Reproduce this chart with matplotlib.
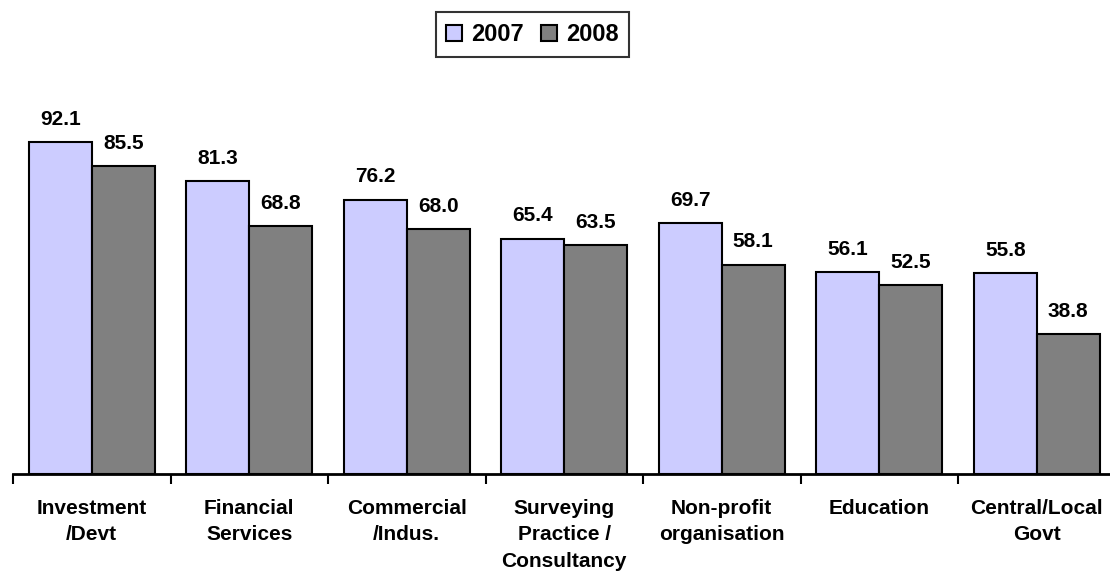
import matplotlib.pyplot as plt
import numpy as np

plt.rcParams['font.family'] = ['Liberation Sans', 'DejaVu Sans']

categories = ['Investment\n/Devt', 'Financial\nServices', 'Commercial\n/Indus.',
              'Surveying\nPractice /\nConsultancy', 'Non-profit\norganisation',
              'Education', 'Central/Local\nGovt']
vals_2007 = [92.1, 81.3, 76.2, 65.4, 69.7, 56.1, 55.8]
vals_2008 = [85.5, 68.8, 68.0, 63.5, 58.1, 52.5, 38.8]
series_names = ['2007', '2008']
colors = ['#CCCCFF', '#808080']

W, H = 1110, 573
fig = plt.figure(figsize=(W / 100, H / 100), dpi=100)
# plot area in pixel terms: left 13, bottom line at y=474, 157.5 px per category
ax = fig.add_axes([13 / W, (H - 474) / H, 157.5 * 7 / W, 360 / H])

x = np.arange(len(categories))
bw = 0.4
b1 = ax.bar(x - bw / 2, vals_2007, bw, color=colors[0], edgecolor='black',
            linewidth=1.5, label=series_names[0])
b2 = ax.bar(x + bw / 2, vals_2008, bw, color=colors[1], edgecolor='black',
            linewidth=1.5, label=series_names[1])

for bars, vals in ((b1, vals_2007), (b2, vals_2008)):
    for r, v in zip(bars, vals):
        ax.annotate(f'{v:.1f}', (r.get_x() + r.get_width() / 2, v),
                    xytext=(0, 23), textcoords='offset pixels',
                    ha='center', va='center', fontsize=15, fontweight='bold')

ax.set_xlim(-0.5, len(categories) - 0.5)
ax.set_ylim(0, 100)
ax.set_yticks([])
for s in ['top', 'right', 'left']:
    ax.spines[s].set_visible(False)
ax.spines['bottom'].set_linewidth(2)

# ticks at category boundaries, labels at centres
ax.set_xticks(np.arange(len(categories) + 1) - 0.5)
ax.set_xticklabels([])
ax.tick_params(axis='x', which='major', length=7, width=1.5, direction='out')
ax.set_xticks(x, minor=True)
ax.set_xticklabels(categories, minor=True, fontsize=15, fontweight='bold',
                   linespacing=1.5)
ax.tick_params(axis='x', which='minor', length=0, pad=18)

leg = fig.legend(handles=[b1, b2], loc='center', bbox_to_anchor=(532.5 / W, 1 - 34.5 / H),
                 ncol=2, frameon=True, fancybox=False, edgecolor='black',
                 prop={'weight': 'bold', 'size': 17}, handlelength=0.65,
                 handleheight=0.65, handletextpad=0.4, columnspacing=0.75,
                 borderpad=0.45)
leg.get_frame().set_linewidth(1.5)

fig.savefig('out.png', dpi=100)
